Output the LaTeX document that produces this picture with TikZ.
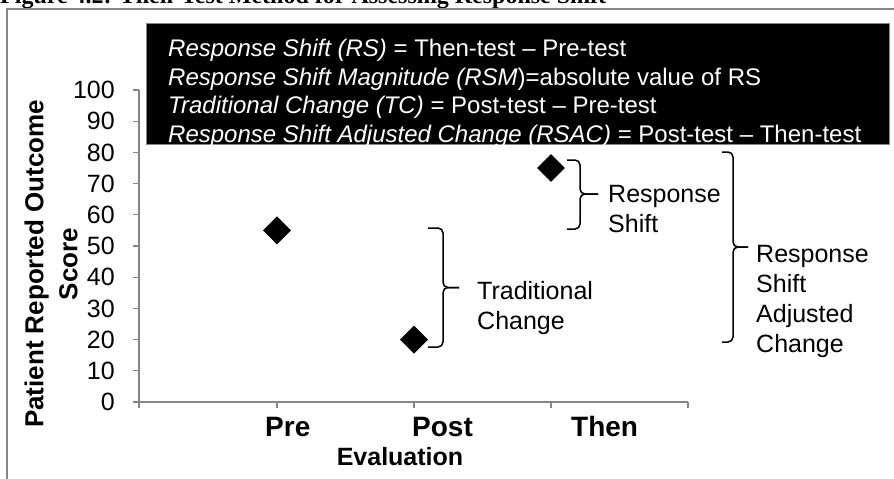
\documentclass[tikz,border=0pt]{standalone}
\usepackage{fontspec}
\setmainfont{Liberation Sans}
\newfontfamily\titlefont{Liberation Serif}
\usetikzlibrary{shapes.geometric}
\definecolor{axisgray}{RGB}{134,134,134}
\tikzset{
  axisline/.style={draw=axisgray,line width=1.3pt},
  marker/.style={diamond,fill=black,inner sep=0pt,minimum size=28pt},
  ticklabel/.style={anchor=east,inner sep=0pt,font=\fontsize{25}{30}\selectfont},
  catlabel/.style={anchor=base west,inner sep=0pt,font=\fontsize{28}{32}\selectfont\bfseries},
  bracelabel/.style={anchor=base west,align=left,inner sep=0pt,font=\fontsize{25}{29.5}\selectfont},
  braceline/.style={draw=black,line width=1.5pt,rounded corners=5pt},
}
\begin{document}
\begin{tikzpicture}[x=1pt,y=-1pt]
  \useasboundingbox (0,0) rectangle (894,479);
  % title (cut at the top) and frame
  \node[anchor=base west,inner sep=0pt,font=\titlefont\bfseries\fontsize{24}{28}\selectfont] (title) at (0,3) {Figure 4.2: Then-Test Method for Assessing Response Shift};
  \draw[draw=axisgray,line width=1.3pt] (7,9) rectangle (910,500);

  % definitions box (base = last line)
  \draw[fill=black,draw=axisgray,line width=1pt] (146,23) rectangle (889,144);
  \node[anchor=base west,align=left,inner sep=0pt,text=white,font=\fontsize{24}{28.5}\selectfont] (defs) at (168,142)
    {\textit{Response Shift (RS)} = Then-test -- Pre-test\\
     \textit{Response Shift Magnitude (RSM})=absolute value of RS\\
     \textit{Traditional Change (TC)} = Post-test -- Pre-test\\
     \textit{Response Shift Adjusted Change (RSAC)} = Post-test -- Then-test};

  % axes
  \coordinate (ytop) at (139,90);
  \coordinate (ybot) at (139,408);
  \coordinate (xleft) at (133,402);
  \coordinate (xend) at (688,402);
  \draw[axisline] (ytop) -- (ybot);
  \draw[axisline] (xleft) -- (xend);
  \foreach \v in {0,10,...,100} {
    \draw[axisline] (133,{402-3.12*\v}) -- (139,{402-3.12*\v});
    \node[ticklabel] (tick\v) at (115,{402-3.12*\v}) {\v};
  }
  \foreach \x in {277,414,551,688}
    \draw[axisline] (\x,402) -- (\x,408);

  \node[rotate=90,align=center,inner sep=0pt,font=\fontsize{26}{34}\selectfont\bfseries] (ylabel) at (51,264) {Patient Reported Outcome\\Score};
  \node[catlabel] (prelabel) at (265,436) {Pre};
  \node[catlabel] (postlabel) at (412,436) {Post};
  \node[catlabel] (thenlabel) at (571,436) {Then};
  \node[anchor=base,inner sep=0pt,font=\fontsize{25}{30}\selectfont\bfseries] (xlabel) at (400,465) {Evaluation};

  % scores
  \node[marker] (pre) at (277,230.4) {};
  \node[marker] (post) at (414,339.6) {};
  \node[marker] (then) at (551,168) {};

  % braces
  \draw[braceline] (428,228) -| (443,287.5) -- (459,287.5);
  \draw[braceline] (428,347) -| (443,287.5) -- (459,287.5);
  \node[bracelabel] (tc) at (477,329) {Traditional\\Change};

  \draw[braceline] (567,160) -| (580,194) -- (598,194);
  \draw[braceline] (567,229) -| (580,194) -- (598,194);
  \node[bracelabel] (rs) at (608,232) {Response\\Shift};

  \draw[braceline] (722,152) -| (733,247) -- (748,247);
  \draw[braceline] (722,342) -| (733,247) -- (748,247);
  \node[bracelabel,font=\fontsize{25}{30}\selectfont] (rsac) at (756,352) {Response\\Shift\\Adjusted\\Change};
\end{tikzpicture}
\end{document}
